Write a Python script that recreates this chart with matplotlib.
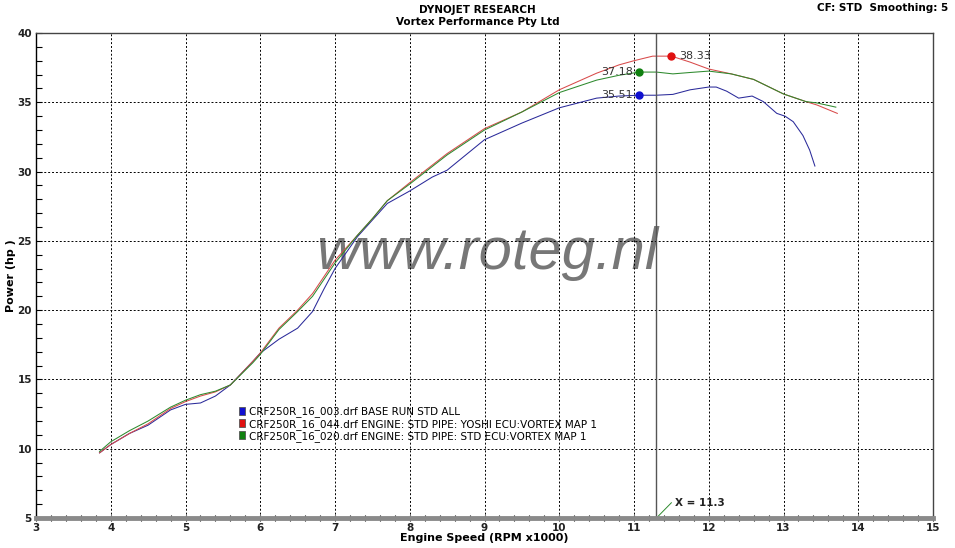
import numpy as np
import matplotlib
matplotlib.use('Agg')
import matplotlib.pyplot as plt
from matplotlib.patches import Patch
from matplotlib.ticker import MultipleLocator

# --- data ---
rpm_003 = [3.85, 4.0, 4.25, 4.5, 4.8, 5.0, 5.2, 5.4, 5.6, 5.9, 6.0, 6.25, 6.5, 6.7, 6.85, 7.0,
           7.3, 7.5, 7.7, 7.9, 8.0, 8.3, 8.5, 9.0, 9.5, 10.0, 10.5, 10.8, 11.07, 11.3, 11.52,
           11.75, 12.0, 12.1, 12.24, 12.4, 12.58, 12.73, 12.91, 13.02, 13.13, 13.26, 13.35, 13.42]
hp_003 = [9.7, 10.3, 11.1, 11.7, 12.8, 13.2, 13.3, 13.8, 14.6, 16.3, 16.9, 17.9, 18.7, 19.9, 21.5, 23.0,
          25.3, 26.5, 27.7, 28.3, 28.6, 29.6, 30.1, 32.3, 33.5, 34.6, 35.3, 35.45, 35.51, 35.51, 35.57,
          35.9, 36.1, 36.1, 35.8, 35.3, 35.45, 35.05, 34.2, 34.0, 33.6, 32.6, 31.55, 30.4]

rpm_044 = [3.85, 4.0, 4.25, 4.5, 4.8, 5.0, 5.2, 5.4, 5.6, 5.9, 6.0, 6.25, 6.5, 6.7, 6.85, 7.0,
           7.3, 7.5, 7.7, 8.0, 8.5, 9.0, 9.5, 10.0, 10.5, 10.8, 11.0, 11.25, 11.5, 11.75, 12.0,
           12.3, 12.6, 13.0, 13.3, 13.45, 13.72]
hp_044 = [9.7, 10.3, 11.1, 11.8, 12.9, 13.4, 13.8, 14.1, 14.6, 16.3, 16.9, 18.7, 20.0, 21.2, 22.4, 23.6,
          25.4, 26.6, 27.9, 29.2, 31.3, 33.1, 34.3, 35.9, 37.1, 37.7, 38.0, 38.33, 38.33, 37.9, 37.4,
          37.05, 36.65, 35.6, 35.05, 34.8, 34.2]

rpm_020 = [3.85, 4.0, 4.25, 4.5, 4.8, 5.0, 5.2, 5.4, 5.6, 5.9, 6.0, 6.25, 6.5, 6.7, 6.85, 7.0,
           7.3, 7.5, 7.7, 8.0, 8.5, 9.0, 9.5, 10.0, 10.5, 10.8, 11.07, 11.3, 11.52, 11.75, 12.0,
           12.3, 12.6, 13.0, 13.3, 13.45, 13.7]
hp_020 = [9.8, 10.5, 11.3, 12.0, 13.0, 13.5, 13.9, 14.15, 14.6, 16.2, 16.8, 18.6, 19.9, 21.0, 22.2, 23.4,
          25.4, 26.6, 27.9, 29.1, 31.2, 33.0, 34.3, 35.7, 36.6, 36.95, 37.18, 37.18, 37.05, 37.15, 37.25,
          37.05, 36.65, 35.6, 35.05, 34.95, 34.65]

run_labels = ["CRF250R_16_003.drf BASE RUN STD ALL",
              "CRF250R_16_044.drf ENGINE: STD PIPE: YOSHI ECU:VORTEX MAP 1",
              "CRF250R_16_020.drf ENGINE: STD PIPE: STD ECU:VORTEX MAP 1"]
run_colors = ["#2a2a9a", "#d84a4a", "#2e8a2e"]
marker_colors = ["#1010d0", "#e01010", "#108010"]

# peak markers (blue, red, green)
peak_rpm = [11.07, 11.5, 11.07]
peak_hp = [35.51, 38.33, 37.18]
cursor_x = 11.3

fig = plt.figure(figsize=(9.55, 5.48), dpi=100)
ax = fig.add_axes([36 / 955, 1 - 518 / 548, 897 / 955, 485 / 548])

series = [(rpm_003, hp_003), (rpm_044, hp_044), (rpm_020, hp_020)]
for (x, y), c in zip(series, run_colors):
    ax.plot(x, y, color=c, lw=0.75)

ax.set_xlim(3, 15)
ax.set_ylim(5, 40)
ax.xaxis.set_major_locator(MultipleLocator(1))
ax.xaxis.set_minor_locator(MultipleLocator(0.2))
ax.yaxis.set_major_locator(MultipleLocator(5))
ax.yaxis.set_minor_locator(MultipleLocator(1))
ax.grid(True, which='major', color='black', linestyle=(0, (2, 2)), lw=0.7)

ax.tick_params(axis='x', which='both', direction='inout', length=5, width=0.8, labelsize=7.5, pad=1)
ax.tick_params(axis='y', which='both', direction='in', length=4, width=0.8, labelsize=7.5, pad=3)
for lab in ax.get_xticklabels() + ax.get_yticklabels():
    lab.set_fontweight('bold')
    lab.set_color('#222222')

ax.spines['bottom'].set_linewidth(3.5)
ax.spines['bottom'].set_color('#8a8a8a')
ax.spines['left'].set_color('black')
ax.spines['left'].set_linewidth(1.0)
for s in ['top', 'right']:
    ax.spines[s].set_color('#444444')
    ax.spines[s].set_linewidth(1.0)

ax.set_xlabel("Engine Speed (RPM x1000)", fontsize=8, fontweight='bold', labelpad=0)
ax.set_ylabel("Power (hp )", fontsize=8, fontweight='bold', labelpad=1)

# cursor line
ax.axvline(cursor_x, color='#555555', lw=1.0)
ax.plot([cursor_x, cursor_x + 0.2], [5, 6.1], color='#2e8a2e', lw=0.7)
ax.text(cursor_x + 0.25, 6.1, "X = %.1f" % cursor_x, fontsize=7.5, fontweight='bold', color='#222222', va='center')

# peak markers
order = [0, 2, 1]
for i in order:
    ax.plot([peak_rpm[i]], [peak_hp[i]], 'o', color=marker_colors[i], ms=5, zorder=5)
for i in [0, 2]:
    ax.text(peak_rpm[i] - 0.08, peak_hp[i], "%.2f" % peak_hp[i], fontsize=8, color='#333333',
            ha='right', va='center')
ax.text(peak_rpm[1] + 0.1, peak_hp[1], "%.2f" % peak_hp[1], fontsize=8, color='#333333',
        ha='left', va='center')

# watermark
ax.text(0.503, 0.545, "www.roteg.nl", transform=ax.transAxes, fontsize=43, style='italic',
        family='Liberation Sans', color='#777777', ha='center', va='center', zorder=1)

# legend
handles = [Patch(facecolor=c, edgecolor='#555555', lw=0.6) for c in marker_colors]
ax.legend(handles, run_labels, loc='upper left', bbox_to_anchor=(0.2265, 0.23), frameon=False,
          fontsize=7.5, handlelength=0.6, handleheight=0.8, handletextpad=0.3, labelspacing=0.12,
          borderaxespad=0, borderpad=0)

fig.text(0.5, 1 - 10 / 548, "DYNOJET RESEARCH", ha='center', va='center', fontsize=7.5, fontweight='bold')
fig.text(0.5, 1 - 22 / 548, "Vortex Performance Pty Ltd", ha='center', va='center', fontsize=7.5, fontweight='bold')
fig.text(948 / 955, 1 - 8 / 548, "CF: STD  Smoothing: 5", ha='right', va='center', fontsize=7.5, fontweight='bold')

fig.savefig('out.png', dpi=100)
